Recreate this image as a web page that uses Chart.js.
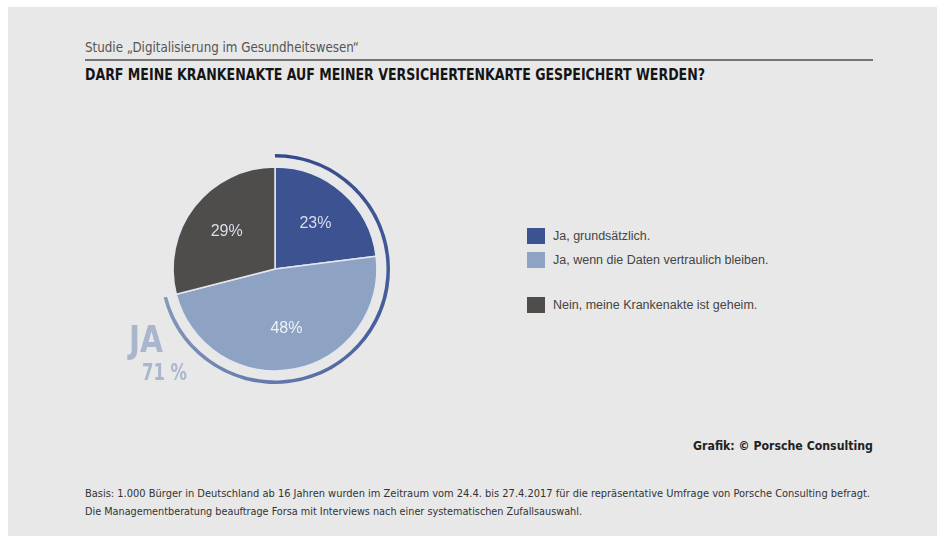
<!DOCTYPE html>
<html>
<head>
<meta charset="utf-8">
<script src="https://cdn.jsdelivr.net/npm/chart.js@4"></script>
<style>
  body { margin: 0; background: #fff; width: 941px; height: 536px; overflow: hidden; position: relative; font-family: "Liberation Sans", Arial, sans-serif; }
  #panel { position: absolute; left: 8px; top: 7px; width: 929px; height: 529px; background: #e8e8e8; }
  .abs { position: absolute; white-space: nowrap; transform-origin: 0 50%; }
  .narrow { font-family: "Liberation Sans Narrow", "DejaVu Sans Condensed", sans-serif; }
  #studie { left: 85px; top: 38px; font-size: 14px; color: #555; line-height: 18px; }
  #rule { position: absolute; left: 85px; top: 59px; width: 788px; height: 2px; background: #737373; }
  #titel { left: 85px; top: 66px; font-size: 16px; font-weight: bold; color: #151515; line-height: 18px; }
  #wrap { position: absolute; left: 160px; top: 154px; width: 230px; height: 230px; }
  #ja { left: 129px; top: 325px; height: 30px; font-size: 37px; font-weight: bold; color: #aab6cc; line-height: 30px; }
  #ja71 { left: 142px; top: 362px; height: 20px; font-size: 23px; font-weight: bold; color: #aab6cc; line-height: 20px; }
  #legende { position: absolute; left: 527px; top: 224px; margin: 0; padding: 0; list-style: none; }
  #legende li { height: 24px; line-height: 24px; font-size: 12.5px; color: #444; position: relative; padding-left: 26px; white-space: nowrap; }
  #legende li:nth-child(3) { margin-top: 21px; }
  #legende li span { position: absolute; left: 0; top: 4px; width: 18px; height: 16px; }
  #quelle { left: 693px; top: 437px; font-size: 13px; font-weight: bold; color: #222; line-height: 18px; }
  #basis1 { left: 85px; top: 486px; font-size: 11px; color: #333; line-height: 16px; }
  #basis2 { left: 85px; top: 504px; font-size: 11px; color: #333; line-height: 16px; }
</style>
</head>
<body>
<div id="panel"></div>
<div id="studie" class="abs narrow fit" data-w="274">Studie „Digitalisierung im Gesundheitswesen“</div>
<div id="rule"></div>
<div id="titel" class="abs narrow fit" data-w="620">DARF MEINE KRANKENAKTE AUF MEINER VERSICHERTENKARTE GESPEICHERT WERDEN?</div>
<div id="wrap"><canvas id="grafico"></canvas></div>
<div id="ja" class="abs narrow fit" data-w="34">JA</div>
<div id="ja71" class="abs narrow fit" data-w="45">71 %</div>
<ul id="legende"></ul>
<div id="quelle" class="abs narrow fit" data-w="180">Grafik: © Porsche Consulting</div>
<div id="basis1" class="abs narrow fit" data-w="785">Basis: 1.000 Bürger in Deutschland ab 16 Jahren wurden im Zeitraum vom 24.4. bis 27.4.2017 für die repräsentative Umfrage von Porsche Consulting befragt.</div>
<div id="basis2" class="abs narrow fit" data-w="497">Die Managementberatung beauftrage Forsa mit Interviews nach einer systematischen Zufallsauswahl.</div>

<script>
const antworten = ['Ja, grundsätzlich.', 'Ja, wenn die Daten vertraulich bleiben.', 'Nein, meine Krankenakte ist geheim.'];
const prozente = [23, 48, 29];
const farben = ['#3c5291', '#8ea3c4', '#4e4d4b'];
const jaNein = [71, 29];

// legenda
const ul = document.getElementById('legende');
antworten.forEach((a, i) => {
    const li = document.createElement('li');
    li.innerHTML = '<span style="background:' + farben[i] + '"></span>' + a;
    ul.appendChild(li);
});

// ajusta largura dos textos
document.querySelectorAll('.fit').forEach(el => {
    const w = el.getBoundingClientRect().width;
    el.style.transform = 'scaleX(' + (parseFloat(el.dataset.w) / w) + ')';
});

const rotulos = {
    id: 'rotulos',
    afterDatasetsDraw(chart) {
        const ctx = chart.ctx;
        const meta = chart.getDatasetMeta(2);
        ctx.save();
        ctx.font = '16px "Liberation Sans", Arial, sans-serif';
        ctx.textAlign = 'center';
        ctx.textBaseline = 'middle';
        meta.data.forEach((arc, i) => {
            const p = arc.getProps(['x', 'y', 'startAngle', 'endAngle', 'outerRadius'], true);
            const m = (p.startAngle + p.endAngle) / 2;
            const r = p.outerRadius * 0.6;
            ctx.fillStyle = i === 1 ? '#eef1f6' : '#d9deea';
            ctx.fillText(prozente[i] + '%', p.x + Math.cos(m) * r, p.y + Math.sin(m) * r);
        });
        ctx.restore();
    }
};

function corJa(c) {
    if (c.dataIndex !== 0) return 'rgba(0,0,0,0)';
    const chart = c.chart;
    const area = chart.chartArea;
    if (!area) return '#5a6fa5';
    const cx = (area.left + area.right) / 2;
    const cy = (area.top + area.bottom) / 2;
    const g = chart.ctx.createConicGradient(-Math.PI / 2, cx, cy);
    g.addColorStop(0, '#33488a');
    g.addColorStop(0.35, '#4a62a0');
    g.addColorStop(0.71, '#8598bd');
    g.addColorStop(1, '#8598bd');
    return g;
}

let myPieChart = new Chart(document.getElementById('grafico').getContext('2d'), {
    type: 'pie',
    data: {
        labels: antworten,
        datasets: [{
            data: jaNein,
            backgroundColor: corJa,
            hoverBackgroundColor: corJa,
            borderWidth: 0,
            hoverBorderWidth: 0,
            weight: 3.5
        },
        {
            data: [100],
            backgroundColor: 'rgba(0,0,0,0)',
            hoverBackgroundColor: 'rgba(0,0,0,0)',
            borderWidth: 0,
            hoverBorderWidth: 0,
            weight: 9.5
        },
        {
            data: prozente,
            backgroundColor: farben,
            hoverBackgroundColor: farben,
            borderColor: '#e3e7ee',
            borderWidth: 1.5,
            hoverBorderWidth: 1.5,
            weight: 101.25
        }]
    },
    options: {
        responsive: true,
        maintainAspectRatio: false,
        animation: false,
        hoverOffset: 0,
        layout: { padding: 0 },
        plugins: {
            legend: { display: false },
            tooltip: { enabled: false }
        }
    },
    plugins: [rotulos]
});
</script>
</body>
</html>
